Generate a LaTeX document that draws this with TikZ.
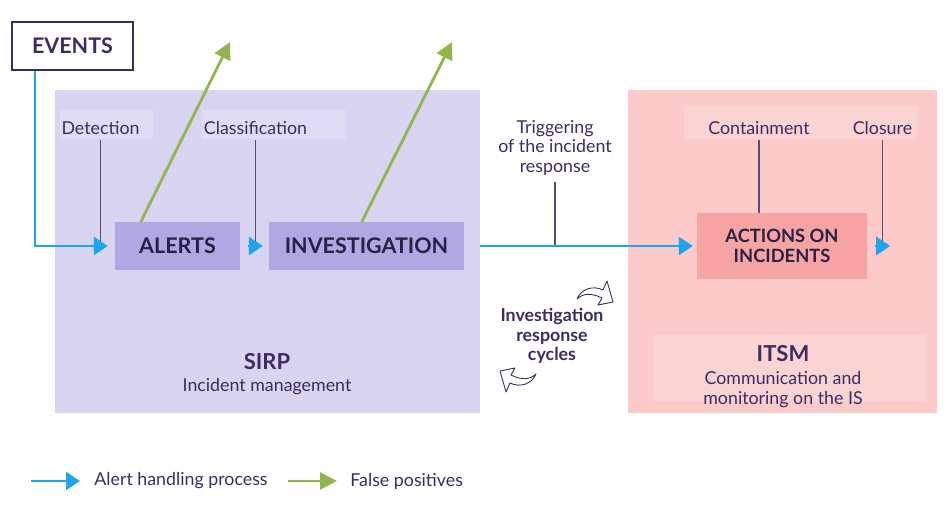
\documentclass[tikz,border=0pt]{standalone}
\usepackage{fontspec}
\setmainfont{Lato}
\usetikzlibrary{arrows.meta}
\usetikzlibrary{positioning,calc}

\definecolor{ink}{HTML}{3E2B61}
\definecolor{darkink}{HTML}{2A1F45}
\definecolor{sirpbg}{HTML}{D9D4F1}
\definecolor{sirptag}{HTML}{E0DCF4}
\definecolor{stepfill}{HTML}{B0A7E3}
\definecolor{itsmbg}{HTML}{FDCACA}
\definecolor{itsmtag}{HTML}{FAD3D3}
\definecolor{actfill}{HTML}{F6A3A3}
\definecolor{flowblue}{HTML}{1DA6EE}
\definecolor{fpgreen}{HTML}{93B54D}

\begin{document}
\begin{tikzpicture}[x=1pt,y=-1pt]
  \tikzset{
  lbl/.style = {align=center, inner sep=0pt, text=ink,
    font=\fontsize{17.8}{19.5}\selectfont},
  box_ev/.style = {lbl, draw=ink, line width=1.3pt, fill=white,
    font=\fontsize{21.5}{24}\selectfont\bfseries,
    minimum width=121pt, minimum height=48pt},% events
  box_step/.style = {lbl, fill=stepfill, text=darkink,
    font=\fontsize{21.5}{24}\selectfont\bfseries,
    minimum width=125pt, minimum height=48pt},% alerts, investigation
  box_act/.style = {box_step, fill=actfill,
    font=\fontsize{18.3}{20.5}\selectfont\bfseries,
    minimum width=170pt, minimum height=66pt},% actions
  title/.style = {lbl, font=\fontsize{22}{24}\selectfont\bfseries},
  tick/.style = {draw=ink!85, line width=1.1pt},
  flow/.style = {draw=flowblue, line width=2.8pt,
    -{Triangle[length=14pt,width=18pt]}},
  fp/.style = {draw=fpgreen, line width=2.8pt,
    -{Triangle[length=17pt,width=17pt]}},
  cycle_ic/.pic = {
    \draw[ink, line width=0.9pt, line join=round]
      (-18,6) .. controls (-14,-4) and (-2,-8) .. (8,-3)
      -- (12,-12) -- (18,9) -- (3,12) -- (7,5)
      .. controls (-3,0) and (-12,0) .. cycle;
  }
}
\useasboundingbox (0,0) rectangle (951,518);

% zones
\fill[sirpbg] (55,90) rectangle (480,413);
\fill[itsmbg] (628,90) rectangle (937,413);
\fill[sirptag] (60,110) rectangle (153,139);
\fill[sirptag] (202,110) rectangle (346,139);
\fill[itsmtag] (684,106) rectangle (918,139);
\fill[itsmtag] (653,335) rectangle (927,401);

% boxes
\node [box_ev] (events) at (72.5,46) {EVENTS};
\node [box_step] (alerts) at (177.5,246) {ALERTS};
\node [box_step, minimum width=195pt] (inv) at (366.5,246) {INVESTIGATION};
\node [box_act] (actions) at (782,246) {ACTIONS ON\\INCIDENTS};

% step labels
\node [lbl] (det) at (100.5,128) {Detection};
\node [lbl] (cls) at (255.5,128) {Classification};
\node [lbl] (trig) at (555,148) {Triggering\\of the incident\\response};
\node [lbl] (cont) at (759,128) {Containment};
\node [lbl] (clo) at (882.5,128) {Closure};

\node [title] (sirp) at (267,362) {SIRP};
\node [lbl, below=8pt of sirp] (sirpsub) {Incident management};
\node [title] (itsm) at (783,354) {ITSM};
\node [lbl, below=9pt of itsm] (itsmsub) {Communication and\\monitoring on the IS};
\node [lbl, font=\fontsize{17.8}{19.5}\selectfont\bfseries] (cyc) at (552,336)
  {Investigation\\response\\cycles};
\pic at (595,293) {cycle_ic};
\pic[rotate=180] at (518,380) {cycle_ic};

% ticks from labels
\coordinate (clodot) at (882.5,246);
\draw [tick] ([yshift=-5pt]det.south) -- (det.south |- alerts.west);
\draw [tick] ([yshift=-5pt]cls.south) -- (cls.south |- inv.west);
\draw [tick] ([yshift=-6pt]trig.south) -- (trig.south |- inv.east);
\draw [tick] ([yshift=-5pt]cont.south) -- (cont.south |- actions.north);
\draw [tick] ([yshift=-5pt]clo.south) -- (clodot);

% alert handling process
\draw [flow] (events.south -| 35,0) |- ([xshift=-7pt]alerts.west);
\draw [flow] ([xshift=8pt]alerts.east) -- ([xshift=-6pt]inv.west);
\draw [flow] (inv.east -| 480,0) -- ([xshift=-4pt]actions.west);
\draw [flow] ([xshift=8pt]actions.east) -- ([xshift=23pt]actions.east);

% false positives
\coordinate (fp1) at (230,42);
\coordinate (fp2) at (452,42);
\draw [fp] ([xshift=26pt]alerts.north west) -- (fp1);
\draw [fp] ([xshift=93pt]inv.north west) -- (fp2);

% legend
\coordinate (lg1) at (31,481);
\coordinate (lg2) at (288,481);
\draw [flow] (lg1) -- ++(49,0) node [lbl, anchor=west, right=13pt] (lgt1) {Alert handling process};
\draw [fp] (lg2) -- ++(49,0) node [lbl, anchor=west, right=12pt] (lgt2) {False positives};
\end{tikzpicture}
\end{document}
